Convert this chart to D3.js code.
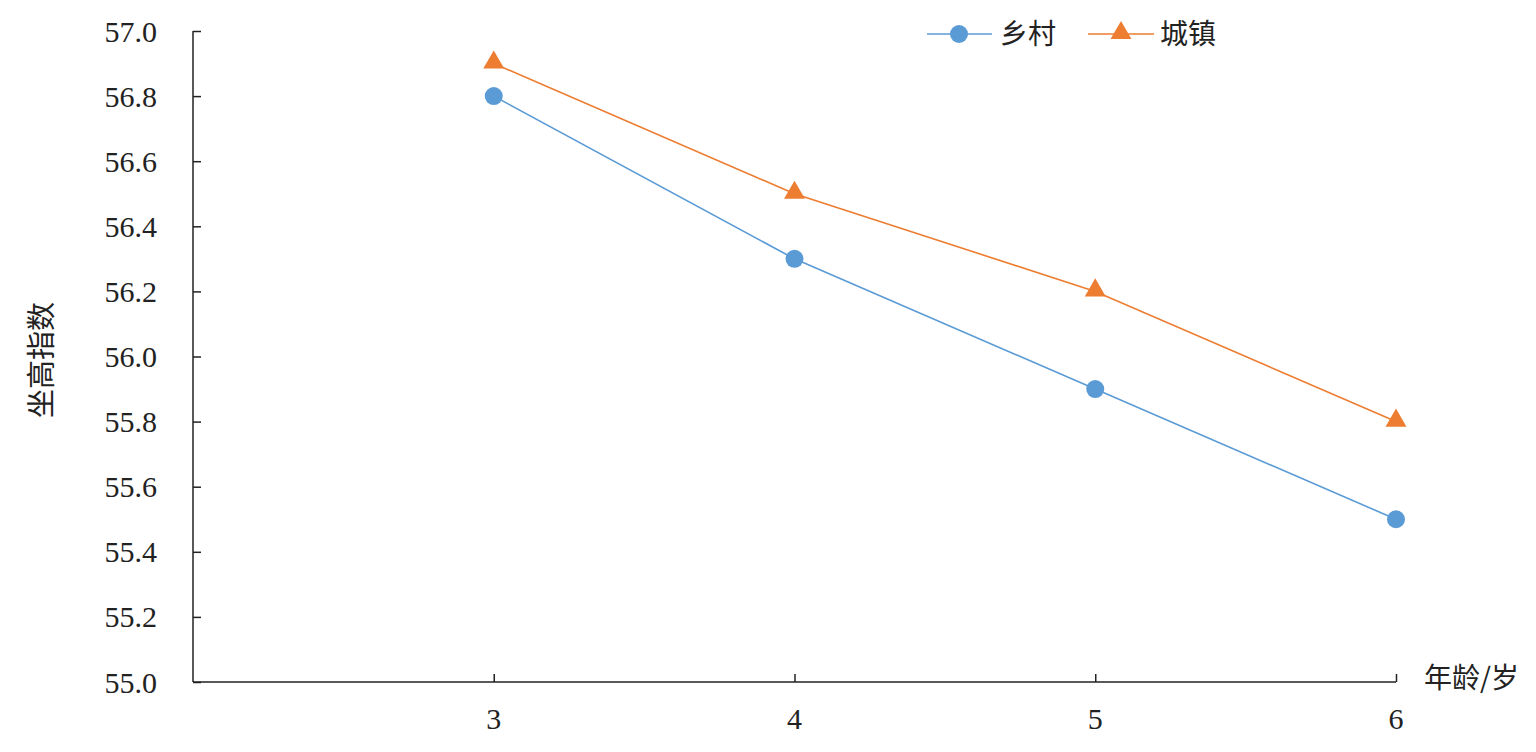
<!DOCTYPE html>
<html><head><meta charset="utf-8">
<script src="https://cdn.jsdelivr.net/npm/d3@7"></script>
<style>html,body{margin:0;padding:0;background:#fff;}</style>
</head><body>
<svg id="c" width="1536" height="752"></svg>
<script>
const ages = [3, 4, 5, 6];
const rural = [56.8, 56.3, 55.9, 55.5];
const urban = [56.9, 56.5, 56.2, 55.8];
const yTicks = [55.0, 55.2, 55.4, 55.6, 55.8, 56.0, 56.2, 56.4, 56.6, 56.8, 57.0];
const seriesNames = ["乡村", "城镇"];
const yTitle = "坐高指数";
const xTitle = "年龄/岁";

const svg = d3.select("#c");
const serif = "'Liberation Serif','Times New Roman',serif";
const cjk = "'Noto Sans CJK SC','Liberation Serif',serif";
const x = d3.scaleLinear().domain([2, 6]).range([193, 1396]);
const y = d3.scaleLinear().domain([55, 57]).range([682, 31]);
const blue = "#5B9BD5", orange = "#ED7D31", axisCol = "#222";

// Y axis
const ya = svg.append("g").attr("transform", "translate(193,0)")
  .call(d3.axisRight(y).tickValues(yTicks).tickSize(8).tickFormat(""));
ya.select(".domain").attr("stroke", axisCol).attr("stroke-width", 1.5).attr("d", "M0,31V682");
ya.selectAll(".tick line").attr("stroke", axisCol).attr("stroke-width", 1.5);
svg.append("g").selectAll("text").data(yTicks).join("text")
  .attr("x", 157).attr("y", d => y(d)).attr("dy", "0.35em")
  .attr("text-anchor", "end").attr("font-family", serif).attr("font-size", 30).attr("fill", "#222")
  .text(d => d.toFixed(1));

// X axis
const xa = svg.append("g").attr("transform", "translate(0,682)")
  .call(d3.axisTop(x).tickValues(ages).tickSize(8).tickFormat(""));
xa.select(".domain").attr("stroke", axisCol).attr("stroke-width", 1.5).attr("d", "M193,0H1396");
xa.selectAll(".tick line").attr("stroke", axisCol).attr("stroke-width", 1.5);
svg.append("g").selectAll("text").data(ages).join("text")
  .attr("x", d => x(d)).attr("y", 729)
  .attr("text-anchor", "middle").attr("font-family", serif).attr("font-size", 30).attr("fill", "#222")
  .text(d => d);

// titles
svg.append("text").attr("transform", "translate(52,360) rotate(-90)")
  .attr("text-anchor", "middle").attr("font-family", cjk).attr("font-size", 29).attr("fill", "#222")
  .text(yTitle);
svg.append("text").attr("x", 1424).attr("y", 688)
  .attr("font-family", cjk).attr("font-size", 28).attr("fill", "#222").text(xTitle);

const line = d3.line().x((d, i) => x(ages[i])).y(d => y(d));
const tri = d3.symbol().type(d3.symbolTriangle).size(190);

// urban line
svg.append("path").datum(urban).attr("d", line).attr("fill", "none").attr("stroke", orange).attr("stroke-width", 1.6);
svg.append("g").selectAll("path").data(urban).join("path")
  .attr("d", tri).attr("transform", (d, i) => `translate(${x(ages[i])},${y(d) - 1})`).attr("fill", orange);

// rural line
svg.append("path").datum(rural).attr("d", line).attr("fill", "none").attr("stroke", blue).attr("stroke-width", 1.6);
svg.append("g").selectAll("circle").data(rural).join("circle")
  .attr("cx", (d, i) => x(ages[i])).attr("cy", d => y(d)).attr("r", 9).attr("fill", blue);

// legend
const lg = svg.append("g");
lg.append("line").attr("x1", 927).attr("x2", 992).attr("y1", 34).attr("y2", 34).attr("stroke", blue).attr("stroke-width", 1.6);
lg.append("circle").attr("cx", 959).attr("cy", 34).attr("r", 9).attr("fill", blue);
lg.append("text").attr("x", 1000).attr("y", 44).attr("font-family", cjk).attr("font-size", 28).attr("fill", "#222").text(seriesNames[0]);
lg.append("line").attr("x1", 1088).attr("x2", 1154).attr("y1", 34).attr("y2", 34).attr("stroke", orange).attr("stroke-width", 1.6);
lg.append("path").attr("d", tri).attr("transform", "translate(1121,33)").attr("fill", orange);
lg.append("text").attr("x", 1160).attr("y", 44).attr("font-family", cjk).attr("font-size", 28).attr("fill", "#222").text(seriesNames[1]);
</script>
</body></html>
